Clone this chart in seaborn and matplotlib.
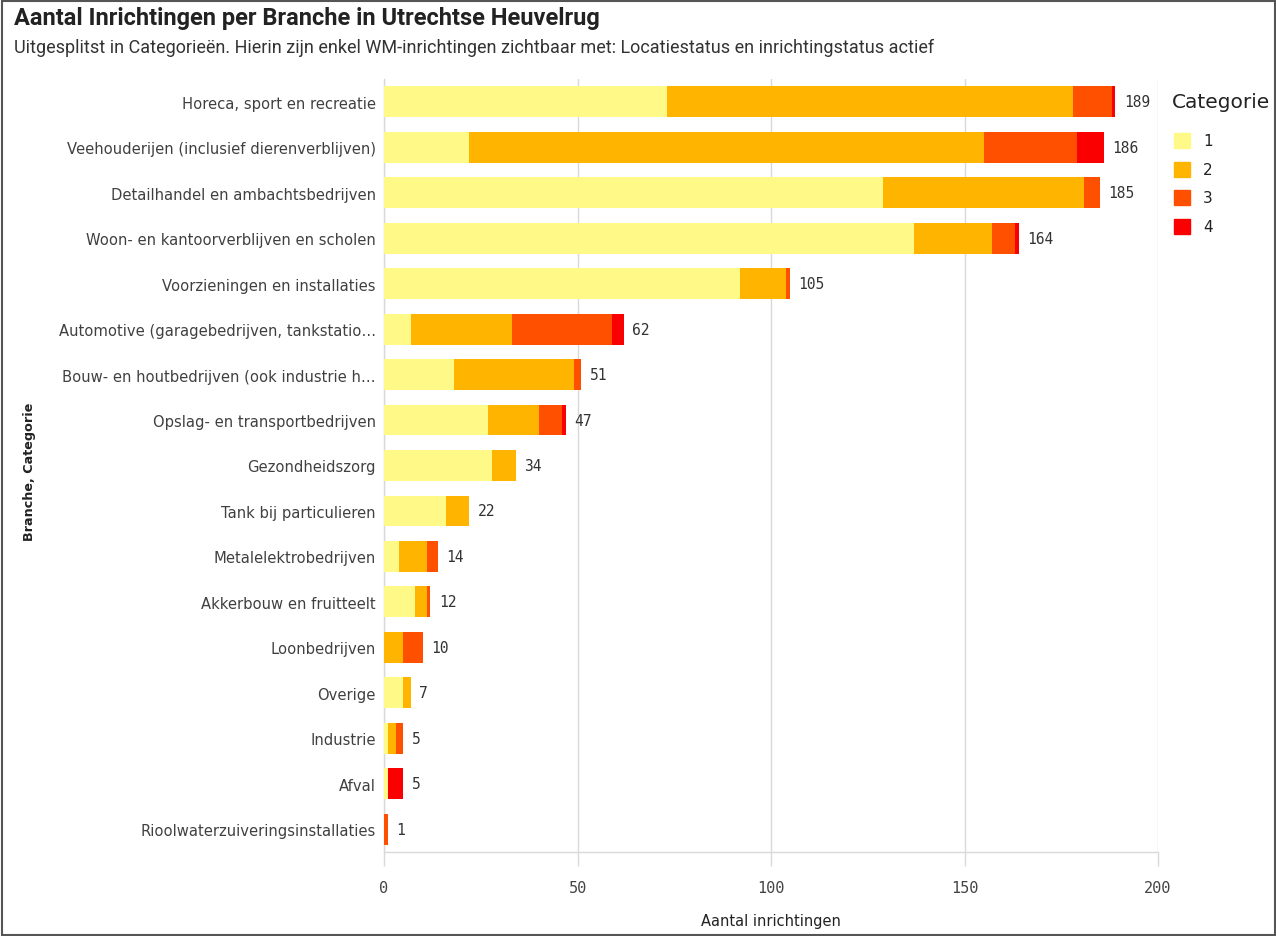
import matplotlib
matplotlib.use('Agg')
import matplotlib.pyplot as plt
import seaborn as sns
import numpy as np
import pandas as pd

# Branches (van boven naar beneden) en aantallen per categorie
branches = [
    "Horeca, sport en recreatie",
    "Veehouderijen (inclusief dierenverblijven)",
    "Detailhandel en ambachtsbedrijven",
    "Woon- en kantoorverblijven en scholen",
    "Voorzieningen en installaties",
    "Automotive (garagebedrijven, tankstatio…",
    "Bouw- en houtbedrijven (ook industrie h…",
    "Opslag- en transportbedrijven",
    "Gezondheidszorg",
    "Tank bij particulieren",
    "Metalelektrobedrijven",
    "Akkerbouw en fruitteelt",
    "Loonbedrijven",
    "Overige",
    "Industrie",
    "Afval",
    "Rioolwaterzuiveringsinstallaties",
]
cat1 = [73, 22, 129, 137, 92, 7, 18, 27, 28, 16, 4, 8, 0, 5, 1, 1, 0]
cat2 = [105, 133, 52, 20, 12, 26, 31, 13, 6, 6, 7, 3, 5, 2, 2, 0, 0]
cat3 = [10, 24, 4, 6, 1, 26, 2, 6, 0, 0, 3, 1, 5, 0, 2, 0, 1]
cat4 = [1, 7, 0, 1, 0, 3, 0, 1, 0, 0, 0, 0, 0, 0, 0, 4, 0]
categories = ["1", "2", "3", "4"]
colors = ["#FFFA87", "#FFB400", "#FF5000", "#FA0000"]

x_ticks = [0, 50, 100, 150, 200]

df = pd.DataFrame({"Branche": branches, "1": cat1, "2": cat2, "3": cat3, "4": cat4})
cum = df[categories].cumsum(axis=1)
totals = cum["4"]

sns.set_theme(style="white")
plt.rcParams['font.family'] = ['DejaVu Sans']

W, H = 1276, 937
fig = plt.figure(figsize=(W / 100, H / 100), dpi=100)
ax = fig.add_axes([384 / W, 1 - 853 / H, (1158 - 384) / W, (853 - 80) / H])

# gestapelde balken: eerst het totaal, dan telkens minder categorieen eroverheen
for k in range(len(categories) - 1, -1, -1):
    sns.barplot(x=cum[categories[k]], y=df["Branche"], color=colors[k],
                orient="h", width=0.68, saturation=1, linewidth=0, ax=ax, zorder=3)

for i, t in enumerate(totals):
    ax.annotate(str(t), xy=(t, i), xytext=(6, 0), textcoords="offset points",
                va="center", ha="left", fontsize=10.5, color="#333333",
                family="DejaVu Sans Mono", zorder=4)

ax.set_xlim(0, 200)
ax.set_ylim(16.5, -0.5)
ax.set_xticks(x_ticks)
ax.set_xticklabels([str(v) for v in x_ticks], family="DejaVu Sans Mono",
                   fontsize=11, color="#444444")
ax.tick_params(axis="x", length=10, width=1, color="#d9d9d9", pad=10, bottom=True)
ax.tick_params(axis="y", length=0, pad=6, labelsize=10.6, labelcolor="#404040")
ax.xaxis.grid(True, color="#d9d9d9", linewidth=1, zorder=0)
ax.yaxis.grid(False)
for s in ["top", "right"]:
    ax.spines[s].set_visible(False)
for s in ["left", "bottom"]:
    ax.spines[s].set_color("#d9d9d9")
    ax.spines[s].set_linewidth(1)

ax.set_xlabel("Aantal inrichtingen", fontsize=10.5, color="#222222", labelpad=13)
ax.set_ylabel("")
fig.text(30 / W, 1 - 472 / H, "Branche, Categorie", rotation=90, ha="center",
         va="center", fontsize=9.2, fontweight="bold", color="#222222")

# titel en ondertitel
fig.text(14 / W, 1 - 19 / H, "Aantal Inrichtingen per Branche in Utrechtse Heuvelrug",
         ha="left", va="center", fontsize=17, fontweight="bold", color="#222222",
         family="Roboto")
fig.text(14 / W, 1 - 48 / H,
         "Uitgesplitst in Categorieën. Hierin zijn enkel WM-inrichtingen zichtbaar met: Locatiestatus en inrichtingstatus actief",
         ha="left", va="center", fontsize=13, color="#333333", family="Roboto")

# legenda
fig.text(1172 / W, 1 - 103 / H, "Categorie", ha="left", va="center",
         fontsize=14.5, color="#222222")
for k, c in enumerate(categories):
    y = 1 - (141.5 + k * 28.7) / H
    fig.patches.append(plt.Rectangle((1174 / W, y - 7.5 / H), 16 / W, 15 / H,
                                     transform=fig.transFigure, color=colors[k]))
    fig.text(1203 / W, y, c, ha="left", va="center", fontsize=11, color="#222222")

# rand rondom de figuur
fig.patches.append(plt.Rectangle((1.5 / W, 1.5 / H), 1 - 3 / W, 1 - 3 / H, fill=False,
                                 edgecolor="#555555", linewidth=1.5,
                                 transform=fig.transFigure))

fig.savefig("out.png", dpi=100)
